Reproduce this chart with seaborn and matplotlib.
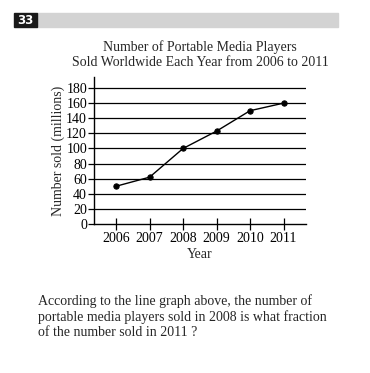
import matplotlib
matplotlib.use("Agg")
import matplotlib.pyplot as plt
import seaborn as sns
import pandas as pd
from matplotlib.patches import Rectangle

years = [2006, 2007, 2008, 2009, 2010, 2011]
sold = [50, 62, 100, 123, 150, 160]
yticks = [0, 20, 40, 60, 80, 100, 120, 140, 160, 180]

sns.set_style("white")
plt.rcParams['font.family'] = ['Liberation Serif', 'DejaVu Serif']

W, H = 370, 373
fig = plt.figure(figsize=(W / 100, H / 100), dpi=100)

def fx(px):
    return px / W

def fy(py):
    return 1 - py / H

# header bar
fig.patches.append(Rectangle((fx(37), fy(27)), fx(338) - fx(37), fy(13) - fy(27),
                             transform=fig.transFigure, color="#d3d3d3", zorder=0))
fig.patches.append(Rectangle((fx(14), fy(27)), fx(37) - fx(14), fy(13) - fy(27),
                             transform=fig.transFigure, color="#1a1a1a", zorder=1))
fig.text(fx(25.5), fy(20.5), "33", color="white", fontsize=8.5, fontweight="bold",
         family="DejaVu Sans", ha="center", va="center")

ax = fig.add_axes([fx(94), fy(224), fx(306) - fx(94), fy(77) - fy(224)])
df = pd.DataFrame({"Year": years, "Sold": sold})
sns.lineplot(data=df, x="Year", y="Sold", ax=ax, color="black", linewidth=1,
             marker="o", markersize=3.8, markeredgecolor="black")

ax.set_xlim(2005.34, 2011.67)
ax.set_ylim(0, 194.6)
ax.set_yticks(yticks)
ax.set_xticks(years)
ax.set_xticklabels([str(y) for y in years], fontsize=10)
ax.set_yticklabels([str(v) for v in yticks], fontsize=10)
for v in yticks[1:]:
    ax.axhline(v, color="black", linewidth=0.9, zorder=0)
for s in ["top", "right"]:
    ax.spines[s].set_visible(False)
for s in ["left", "bottom"]:
    ax.spines[s].set_color("black")
    ax.spines[s].set_linewidth(1)
ax.tick_params(axis="x", bottom=True, direction="inout", length=8, width=0.9, pad=2,
               colors="black")
ax.tick_params(axis="y", left=True, direction="out", length=4, width=0.9, pad=1,
               colors="black")
ax.set_xlabel("Year", fontsize=10, labelpad=2)
ax.set_ylabel("Number sold (millions)", fontsize=10, labelpad=0.5)

fig.text(fx(200), fy(47), "Number of Portable Media Players", fontsize=10,
         ha="center", va="center")
fig.text(fx(200), fy(63), "Sold Worldwide Each Year from 2006 to 2011", fontsize=10,
         ha="center", va="center")

question = ["According to the line graph above, the number of",
            "portable media players sold in 2008 is what fraction",
            "of the number sold in 2011 ?"]
for i, line in enumerate(question):
    fig.text(fx(38), fy(301 + 16 * i), line, fontsize=10, ha="left", va="center")

fig.savefig("out.png", dpi=100)
